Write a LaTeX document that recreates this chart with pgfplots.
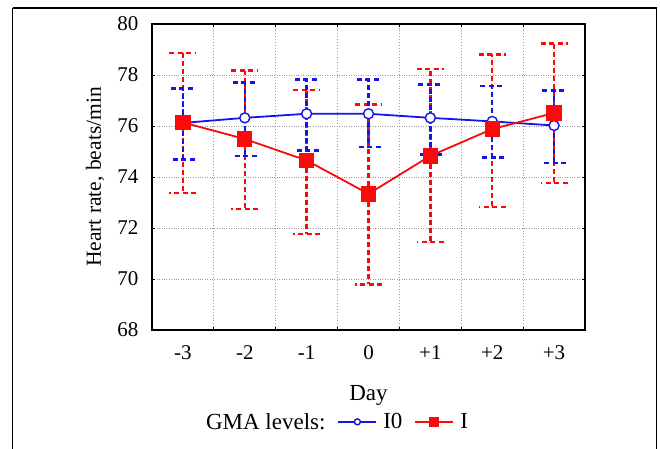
\documentclass[border=0pt]{standalone}
\usepackage{fontspec}
\setmainfont{Liberation Serif}
\usepackage{pgfplots}
\usepackage{pgfplotstable}
\pgfplotsset{compat=1.18}
\definecolor{cblue}{RGB}{20,20,235}
\definecolor{cred}{RGB}{250,10,10}

\pgfplotstableread{
x y ep em
-3 76.12 1.35 1.44
-2 76.32 1.39 1.49
-1 76.48 1.34 1.44
0 76.48 1.34 1.30
1 76.32 1.30 1.43
2 76.18 1.38 1.41
3 76.02 1.38 1.47
}\tblA
\pgfplotstableread{
x y ep em
-3 76.14 2.73 2.77
-2 75.49 2.68 2.75
-1 74.65 2.76 2.88
0 73.34 3.51 3.55
1 74.83 3.41 3.39
2 75.88 2.93 3.06
3 76.51 2.72 2.75
}\tblB

\begin{document}
\begin{tikzpicture}
\useasboundingbox (0,0) rectangle (660pt,448pt);
\fill[white] (0,0) rectangle (660pt,448pt);
\begin{scope}
\clip (0,0) rectangle (660pt,448pt);
\draw[line width=1.6pt] (12.5pt,440pt) -- (656.5pt,440pt) -- (656.5pt,-20pt);
\draw[line width=1.6pt] (12.5pt,440pt) -- (12.5pt,-20pt);
\end{scope}
\begin{axis}[
  at={(152pt,118pt)}, anchor=south west,
  scale only axis, width=433pt, height=306pt,
  xmin=-3.5, xmax=3.5, ymin=68, ymax=80,
  xtick={-3,-2,-1,0,1,2,3},
  xticklabels={-3,-2,-1,0,+1,+2,+3},
  minor xtick={-2.5,-1.5,-0.5,0.5,1.5,2.5},
  ytick={68,70,...,80},
  xminorgrids=true, xmajorgrids=false, ymajorgrids=true,
  grid style={dotted, line width=0.9pt, black!40},
  minor grid style={dotted, line width=0.9pt, black!40},
  tick align=inside,
  major tick length=0pt,
  minor tick length=3pt,
  every tick/.style={black, line width=0.8pt},
  extra y ticks={70,72,74,76,78},
  extra y tick labels={},
  extra y tick style={major tick length=3pt, grid=none},
  axis line style={line width=1.3pt},
  /pgf/number format/assume math mode=true,
  tick label style={font=\fontsize{21pt}{21pt}\selectfont},
  yticklabel style={xshift=-10pt},
  xticklabel style={yshift=-12pt},
  label style={font=\fontsize{23pt}{23pt}\selectfont},
  xlabel={Day},
  xlabel style={at={(axis description cs:0.5,-0.215)}, anchor=center},
  ylabel={Heart rate, beats/min},
  ylabel style={at={(axis description cs:-0.1316,0.5)}, anchor=center, font=\fontsize{21.5pt}{21.5pt}\selectfont},
  legend columns=3,
  legend style={draw=none, fill=none, font=\fontsize{23pt}{23pt}\selectfont,
    at={(axis description cs:0.4226,-0.30)}, anchor=center,
    /tikz/every odd column/.append style={column sep=4pt},
    /tikz/every even column/.append style={column sep=10pt},
    inner sep=0pt},
  legend cell align=left,
  legend image code/.code={
    \draw[#1, every mark/.append style={scale=0.6}, mark repeat=2, mark phase=2] plot coordinates {(0pt,0pt) (19pt,0pt) (38pt,0pt)};
  },
  every error bar/.append style={line width=2.4pt},
]
% red error bars
\addplot[forget plot, draw=none, mark=none, line width=2.4pt,
  error bars/.cd, y dir=both, y explicit, error mark=|,
  error bar style={draw=cred, line width=2.4pt, dash pattern=on 5pt off 3pt},
  error mark options={draw=cred, line width=2.4pt, mark size=13.5pt, dash pattern=on 5pt off 3.5pt}]
  table[x=x, y=y, y error plus=ep, y error minus=em] {\tblB};
% blue error bars
\addplot[forget plot, draw=none, mark=none, line width=2.4pt,
  error bars/.cd, y dir=both, y explicit, error mark=|,
  error bar style={draw=cblue, line width=2.4pt, dash pattern=on 5pt off 3pt},
  error mark options={draw=cblue, line width=2.4pt, mark size=12pt, dash pattern=on 5pt off 3.5pt}]
  table[x=x, y=y, y error plus=ep, y error minus=em] {\tblA};
\addlegendimage{empty legend}
\addlegendentry{GMA levels:}
\addplot[cblue, line width=1.8pt, mark=*, mark size=5pt,
  mark options={solid, fill=white, draw=cblue, line width=1.4pt}]
  table[x=x, y=y] {\tblA};
\addlegendentry{I0}
\addplot[cred, line width=1.8pt, mark=square*, mark size=6.8pt,
  mark options={solid, fill=cred}]
  table[x=x, y=y] {\tblB};
\addlegendentry{I}
\end{axis}
\end{tikzpicture}
\end{document}
